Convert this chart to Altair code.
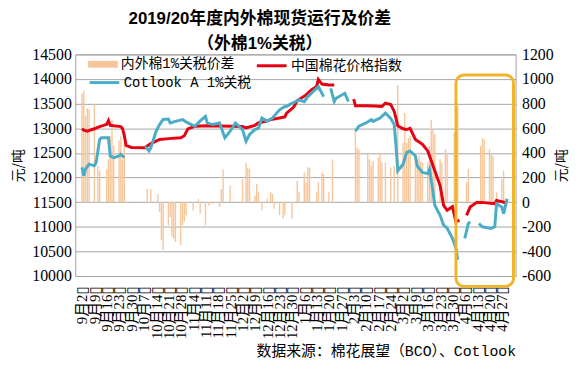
import altair as alt
import pandas as pd

# ---------------- text ----------------
title_lines = ["2019/20年度内外棉现货运行及价差", "（外棉1%关税）"]
source_text = "数据来源：棉花展望（BCO）、Cotlook"
unit_text = "元/吨"
series_names = ["内外棉1%关税价差", "中国棉花价格指数", "Cotlook A 1%关税"]

# ---------------- China cotton price index (left axis) ----------------
red_dates = [
    "2019/09/02", "2019/09/03", "2019/09/05", "2019/09/09", "2019/09/12", "2019/09/16",
    "2019/09/17", "2019/09/18", "2019/09/20", "2019/09/24", "2019/09/25", "2019/09/26",
    "2019/09/27", "2019/09/30", "2019/10/08", "2019/10/09", "2019/10/11", "2019/10/14",
    "2019/10/16", "2019/10/21", "2019/10/28", "2019/10/30", "2019/11/01", "2019/11/05",
    "2019/11/12", "2019/11/19", "2019/11/26", "2019/12/02", "2019/12/04", "2019/12/09",
    "2019/12/11", "2019/12/16", "2019/12/18", "2019/12/23", "2019/12/26", "2019/12/27",
    "2019/12/31", "2020/01/02", "2020/01/07", "2020/01/10", "2020/01/13", "2020/01/14",
    "2020/01/16", "2020/01/20", "2020/01/23",
    "2020/02/03", "2020/02/04", "2020/02/10", "2020/02/14", "2020/02/19", "2020/02/21",
    "2020/02/24", "2020/02/26", "2020/02/27", "2020/02/28", "2020/03/02", "2020/03/04",
    "2020/03/06", "2020/03/09", "2020/03/13", "2020/03/16", "2020/03/19", "2020/03/23",
    "2020/03/25", "2020/03/27", "2020/03/30", "2020/04/01", "2020/04/03",
    "2020/04/07", "2020/04/09", "2020/04/13", "2020/04/17", "2020/04/23", "2020/04/24",
    "2020/04/28", "2020/04/29",
]
red_values = [
    12990, 12960, 12940, 12990, 13035, 13080,
    13155, 13060, 13050, 13035, 12990, 12850,
    12650, 12610, 12606, 12640, 12690, 12740,
    12773, 12790, 12807, 12850, 12988, 13040,
    13050, 13045, 13040, 13035, 13008, 13060,
    13108, 13150, 13175, 13209, 13230, 13309,
    13430, 13560, 13677, 13777, 13850, 13992,
    13898, 13880, 13877,
    13590, 13456, 13456, 13450, 13442, 13510,
    13480, 13342, 13200, 13050, 12990, 12974,
    13000, 12773, 12673, 12540, 12238, 11837,
    11436, 11334, 11407, 11100, 11133,
    11233, 11400, 11500, 11490, 11468, 11534,
    11500, 11480,
]
red_breaks = ["2020/02/03", "2020/04/07"]

# ---------------- Cotlook A 1% tariff (left axis) ----------------
blue_dates = [
    "2019/09/02", "2019/09/03", "2019/09/04", "2019/09/06", "2019/09/09", "2019/09/10",
    "2019/09/12", "2019/09/13", "2019/09/17", "2019/09/18", "2019/09/20", "2019/09/23",
    "2019/09/24", "2019/09/26",
    "2019/10/08", "2019/10/10", "2019/10/11", "2019/10/14", "2019/10/16", "2019/10/18",
    "2019/10/21", "2019/10/22", "2019/10/25", "2019/10/29", "2019/11/01", "2019/11/05",
    "2019/11/08", "2019/11/11", "2019/11/12", "2019/11/15", "2019/11/19", "2019/11/22",
    "2019/11/25", "2019/11/28", "2019/12/02", "2019/12/04", "2019/12/06", "2019/12/09",
    "2019/12/11", "2019/12/13", "2019/12/16", "2019/12/19", "2019/12/23", "2019/12/26",
    "2019/12/27", "2019/12/30", "2019/12/31", "2020/01/03", "2020/01/06", "2020/01/08",
    "2020/01/10", "2020/01/14", "2020/01/16", "2020/01/17",
    "2020/01/21", "2020/01/23", "2020/01/24", "2020/01/29", "2020/01/31",
    "2020/02/04", "2020/02/06", "2020/02/10", "2020/02/13", "2020/02/14", "2020/02/18",
    "2020/02/21", "2020/02/24", "2020/02/26", "2020/02/27", "2020/02/28", "2020/03/02",
    "2020/03/04", "2020/03/06", "2020/03/09", "2020/03/10", "2020/03/13", "2020/03/16",
    "2020/03/17", "2020/03/19", "2020/03/20", "2020/03/23", "2020/03/25", "2020/03/27",
    "2020/03/30", "2020/04/01", "2020/04/02",
    "2020/04/06", "2020/04/08", "2020/04/09",
    "2020/04/14", "2020/04/16", "2020/04/21", "2020/04/23", "2020/04/24", "2020/04/27",
    "2020/04/28", "2020/04/30",
]
blue_values = [
    12205, 12036, 12171, 12271, 12238, 12300,
    12773, 12807, 12807, 12438, 12405, 12438,
    12472, 12405,
    12627, 12540, 12600, 12940, 13075, 13180,
    13189, 13108, 13140, 13175, 13108, 13041,
    13150, 13242, 13108, 13075, 13108, 12807,
    12940, 13108, 12974, 12740, 12874, 12974,
    13000, 13209, 13142, 13209, 13375, 13442,
    13442, 13510, 13520, 13576, 13540, 13643,
    13710, 13844, 13710, 13643,
    13811, 13543, 13610, 13710, 13543,
    12940, 13041, 13108, 13175, 13140, 13209,
    13309, 13200, 13075, 12650, 12137, 12270,
    12506, 12540, 12438, 12238, 12104, 12080,
    12171, 11703, 11436, 11233, 11033, 10970,
    10765, 10565, 10330,
    10765, 11066, 11100,
    11066, 11000, 10966, 11000, 11468, 11400,
    11267, 11568,
]
blue_breaks = ["2019/10/08", "2020/01/21", "2020/02/04", "2020/04/06", "2020/04/14"]

# ---------------- spread, 1% tariff (right axis) ----------------
spread_dates = [
    "2019/09/02", "2019/09/03", "2019/09/04", "2019/09/05", "2019/09/06", "2019/09/09",
    "2019/09/11", "2019/09/12", "2019/09/16", "2019/09/17", "2019/09/18", "2019/09/19",
    "2019/09/20", "2019/09/23", "2019/09/24", "2019/09/25", "2019/09/26",
    "2019/10/09", "2019/10/11", "2019/10/15", "2019/10/16", "2019/10/17", "2019/10/18",
    "2019/10/21", "2019/10/22", "2019/10/23", "2019/10/24", "2019/10/25", "2019/10/28",
    "2019/10/29", "2019/10/30", "2019/10/31",
    "2019/11/04", "2019/11/07", "2019/11/08", "2019/11/11", "2019/11/13", "2019/11/15",
    "2019/11/19", "2019/11/20", "2019/11/21", "2019/11/25",
    "2019/12/02", "2019/12/04", "2019/12/05", "2019/12/06", "2019/12/09", "2019/12/10",
    "2019/12/11", "2019/12/13", "2019/12/16", "2019/12/18", "2019/12/19", "2019/12/20",
    "2019/12/23", "2019/12/25", "2019/12/26", "2019/12/30", "2019/12/31",
    "2020/01/02", "2020/01/03", "2020/01/06", "2020/01/07", "2020/01/08", "2020/01/09",
    "2020/01/13", "2020/01/14", "2020/01/16", "2020/01/17", "2020/01/20", "2020/01/22",
    "2020/02/04", "2020/02/05", "2020/02/06", "2020/02/11", "2020/02/12", "2020/02/13",
    "2020/02/14", "2020/02/17", "2020/02/18", "2020/02/19", "2020/02/21", "2020/02/24",
    "2020/02/26", "2020/02/28",
    "2020/03/02", "2020/03/03", "2020/03/04", "2020/03/05", "2020/03/06", "2020/03/09",
    "2020/03/10", "2020/03/11", "2020/03/12", "2020/03/13", "2020/03/16", "2020/03/17",
    "2020/03/18", "2020/03/19", "2020/03/20", "2020/03/23", "2020/03/24", "2020/03/26",
    "2020/03/27", "2020/03/31", "2020/04/02",
    "2020/04/07", "2020/04/08", "2020/04/15", "2020/04/16", "2020/04/17", "2020/04/20",
    "2020/04/21", "2020/04/22", "2020/04/24", "2020/04/27", "2020/04/28", "2020/04/29",
]
spread_values = [
    880, 900, 700, 760, 750, 800,
    295, 255, 268, 348, 536, 670,
    455, 500, 536, 348, 482,
    107, 107, 67, -80, -308, -389,
    -188, -120, -280, -295, -322, -348,
    -188, -160, -107,
    -67, 27, -94, -188, -30, -15,
    -40, 107, 268, 134,
    188, 322, 280, 268, 54, 147,
    80, -67, 27, 80, 67, -54,
    -107, -134, -107, -134, -10,
    174, 80, 241, 160, 281, 281,
    80, 161, 241, 228, 80, 348,
    590, 442, 429, 402, 348, 295,
    335, 362, 402, 322, 322, 281,
    295, 951,
    482, 724, 482, 522, 536, 375,
    348, 375, 330, 322, 322, 455,
    670, 590, 549, 348, 322, 429,
    388, 563, 777,
    161, 268, 455, 522, 509, 429,
    388, 375, 80, 188, 255, 27,
]

# ---------------- axes ----------------
x_start, x_end = "2019/09/01", "2020/05/02"
tick_dates = [
    "2019/09/02", "2019/09/09", "2019/09/16", "2019/09/23", "2019/09/30", "2019/10/07",
    "2019/10/14", "2019/10/21", "2019/10/28", "2019/11/04", "2019/11/11", "2019/11/18",
    "2019/11/25", "2019/12/02", "2019/12/09", "2019/12/16", "2019/12/23", "2019/12/30",
    "2020/01/06", "2020/01/13", "2020/01/20", "2020/01/27", "2020/02/03", "2020/02/10",
    "2020/02/17", "2020/02/24", "2020/03/02", "2020/03/09", "2020/03/16", "2020/03/23",
    "2020/03/30", "2020/04/06", "2020/04/13", "2020/04/20", "2020/04/27",
]
left_domain = [10000, 14500]
left_ticks = list(range(10000, 14501, 500))
right_domain = [-600, 1200]
right_ticks = list(range(-600, 1201, 200))

# highlighted recent period (rounded box)
hl_start, hl_end = ["2020/04/01"], ["2020/05/03 15:00"]
hl_top, hl_bottom = [14080], [9790]

# ---------------- styles ----------------
RED = "#E60012"
BLUE = "#4BACC6"
TAN = "#F7C59A"
GOLD = "#F0B429"
GRID = "#A6A6A6"
NUM_FONT = "Liberation Serif"
CJK = "Noto Sans CJK SC"
MIX_FONT = "Liberation Serif, Noto Sans CJK SC, DejaVu Sans"
LEG_FONT = "Liberation Mono, Noto Sans CJK SC"


def dt(s):
    y, m, d = map(int, s.split(" ")[0].split("/"))
    return alt.DateTime(year=y, month=m, date=d)


def seg(dates, breaks):
    return [sum(d >= b for b in breaks) for d in dates]


red_df = pd.DataFrame({"date": red_dates, "value": red_values,
                       "seg": seg(red_dates, red_breaks), "name": series_names[1]})
blue_df = pd.DataFrame({"date": blue_dates, "value": blue_values,
                        "seg": seg(blue_dates, blue_breaks), "name": series_names[2]})
spread_df = pd.DataFrame({"date": spread_dates, "value": spread_values, "name": series_names[0]})
hl_df = pd.DataFrame({"start": hl_start, "end": hl_end, "top": hl_top, "bottom": hl_bottom})

x_scale = alt.Scale(domain=[dt(x_start), dt(x_end)])
x_axis = alt.Axis(
    values=[dt(d) for d in tick_dates],
    labelExpr="timeFormat(datum.value, '%-m月%-d') + '▯'",
    labelAngle=270, labelFont=MIX_FONT, labelFontSize=15, labelColor="black",
    labelOverlap=False, labelFlush=False, labelBound=False, labelPadding=10,
    ticks=False, domain=False, grid=False,
    title=source_text, titleFont=LEG_FONT, titleFontSize=15, titleFontWeight="normal",
    titleColor="black", titleAnchor="end", titlePadding=5,
)

left_scale = alt.Scale(domain=left_domain, nice=False, zero=False)
left_axis = alt.Axis(
    orient="left", values=left_ticks, format="d", grid=True, gridColor=GRID, gridWidth=1,
    domain=False, ticks=False, labelFont=NUM_FONT, labelFontSize=16, labelColor="black",
    labelPadding=4, title=unit_text, titleFont=CJK, titleFontSize=14,
    titleFontWeight="normal", titleColor="black", titlePadding=6, titleAngle=270,
)
right_axis = alt.Axis(
    orient="right", values=right_ticks, labelExpr="'' + datum.value", grid=False,
    domain=False, ticks=False, labelFont=NUM_FONT, labelFontSize=16, labelColor="black",
    labelPadding=6, title=unit_text, titleFont=CJK, titleFontSize=14,
    titleFontWeight="normal", titleColor="black", titlePadding=15, titleAngle=270,
)

bars = alt.Chart(spread_df).mark_bar(size=1.4).encode(
    x=alt.X("date:T", scale=x_scale, axis=x_axis),
    y=alt.Y("value:Q", scale=alt.Scale(domain=right_domain, nice=False), axis=right_axis),
    y2=alt.datum(0),
    fill=alt.Fill("name:N", scale=alt.Scale(domain=[series_names[0]], range=[TAN]),
                  legend=alt.Legend(orient="none", legendX=13, legendY=-5, title=None,
                                    symbolType="M-1,-0.23H1V0.23H-1Z", symbolSize=900,
                                    symbolStrokeWidth=0, labelFont=LEG_FONT, labelFontSize=14,
                                    labelColor="black", labelOffset=3, padding=0)),
)

red = alt.Chart(red_df).mark_line(strokeWidth=3).encode(
    x=alt.X("date:T", scale=x_scale, axis=x_axis),
    y=alt.Y("value:Q", scale=left_scale, axis=left_axis),
    detail="seg:N",
    stroke=alt.Stroke("name:N", scale=alt.Scale(domain=[series_names[1]], range=[RED]),
                      legend=alt.Legend(orient="none", legendX=182, legendY=-5, title=None,
                                        symbolType="stroke", symbolSize=900, symbolStrokeWidth=3,
                                        labelFont=LEG_FONT, labelFontSize=14, labelColor="black",
                                        labelOffset=3, padding=0)),
)

blue = alt.Chart(blue_df).mark_line(strokeWidth=3).encode(
    x=alt.X("date:T", scale=x_scale, axis=x_axis),
    y=alt.Y("value:Q", scale=left_scale, axis=left_axis),
    detail="seg:N",
    color=alt.Color("name:N", scale=alt.Scale(domain=[series_names[2]], range=[BLUE]),
                    legend=alt.Legend(orient="none", legendX=13, legendY=12, title=None,
                                      symbolType="stroke", symbolSize=900, symbolStrokeWidth=3,
                                      labelFont=LEG_FONT, labelFontSize=14, labelColor="black",
                                      labelOffset=3, padding=0)),
)

box = alt.Chart(hl_df).mark_rect(filled=False, stroke=GOLD, strokeWidth=3, cornerRadius=8).encode(
    x=alt.X("start:T", scale=x_scale, axis=x_axis),
    x2="end:T",
    y=alt.Y("top:Q", scale=left_scale, axis=left_axis),
    y2="bottom:Q",
)

chart = (
    alt.layer(bars, alt.layer(red, blue, box))
    .resolve_scale(y="independent")
    .properties(
        width=445, height=224,
        padding={"left": 4, "top": 0, "right": 4, "bottom": 0},
        background="white",
        title=alt.Title(title_lines, font="Liberation Sans, Noto Sans CJK SC", fontSize=17,
                        fontWeight="bold", color="black", lineHeight=26, anchor="middle",
                        frame="group", dx=-36, offset=-7),
    )
    .configure_view(stroke="#A0A0A0", strokeWidth=1)
)

chart.save("out.html", embed_options={"renderer": "svg", "actions": False})
